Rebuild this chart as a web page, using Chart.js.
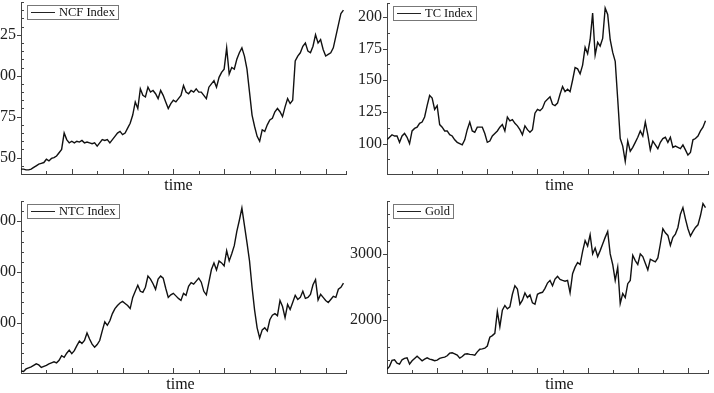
<!DOCTYPE html>
<html>
<head>
<meta charset="utf-8">
<script src="https://cdn.jsdelivr.net/npm/chart.js@4.4.1/dist/chart.umd.min.js"></script>
<style>
  html, body { margin: 0; padding: 0; background: #fff; overflow: hidden; }
  #wrap { position: relative; width: 714px; height: 393px; overflow: hidden; }
  canvas { position: absolute; }
</style>
</head>
<body>
<div id="wrap">
  <canvas id="ncf_chart" width="378" height="196" style="left:-30px;top:0px"></canvas>
  <canvas id="tc_chart" width="374" height="196" style="left:340px;top:0px"></canvas>
  <canvas id="ntc_chart" width="378" height="197" style="left:-30px;top:196px"></canvas>
  <canvas id="gold_chart" width="374" height="197" style="left:340px;top:196px"></canvas>
</div>
<script>
// values, one point per step along the time axis
const ncfIndex = [43, 43, 42.5, 42.5, 43, 44, 45, 46, 46.5, 47, 49, 48, 49.5, 50, 51, 53, 55, 65, 61, 59,
  60, 59, 60, 59.5, 60.5, 59, 59.5, 59, 58.5, 59, 57, 59, 61, 60.5, 61, 59, 61, 63, 65, 66,
  64, 65, 68, 71, 76, 84, 80, 92, 88, 87, 93, 90, 91, 89, 86, 91, 88, 84, 80, 83,
  85, 84, 86, 88, 94, 90, 89, 91, 90, 92, 90, 90, 88, 86, 93, 95, 97, 93, 99, 102,
  104, 117, 101, 105, 104, 110, 114, 117, 112, 104, 90, 76, 69, 63, 60, 67, 66, 70, 73, 74,
  78, 80, 78, 75, 81, 86, 83, 85, 109, 112, 114, 118, 120, 115, 114, 118, 125, 120, 122, 116,
  112, 113, 114, 117, 124, 131, 138, 140];

const tcIndex = [103, 105, 107, 106, 106, 101, 106, 108, 105, 100, 110, 112, 113, 116, 117, 121, 130, 138, 136, 127,
  130, 115, 113, 110, 110, 107, 106, 103, 101, 100, 99, 103, 111, 117, 110, 109, 113, 113, 113, 108,
  101, 102, 106, 108, 110, 113, 115, 110, 121, 118, 119, 116, 114, 111, 107, 114, 111, 109, 111, 124,
  127, 126, 128, 133, 135, 137, 131, 130, 132, 139, 145, 141, 143, 141, 150, 160, 159, 155, 162, 176,
  171, 182, 203, 170, 180, 177, 183, 207, 202, 182, 172, 165, 135, 104, 98, 86, 102, 94, 97, 101,
  105, 110, 106, 117, 107, 95, 102, 99, 96, 101, 104, 105, 101, 105, 97, 98, 97, 96, 99, 95,
  91, 93, 103, 104, 106, 110, 113, 118];

const ntcIndex = [105, 104, 109, 111, 113, 116, 119, 117, 112, 114, 116, 119, 121, 123, 121, 126, 135, 132, 140, 146,
  139, 145, 155, 164, 159, 165, 180, 168, 158, 152, 157, 165, 184, 202, 195, 204, 218, 228, 234, 239,
  242, 238, 234, 228, 250, 262, 274, 262, 260, 270, 292, 286, 277, 266, 286, 292, 288, 268, 250, 255,
  258, 253, 248, 244, 258, 254, 272, 279, 276, 282, 288, 280, 262, 255, 280, 305, 318, 304, 322, 318,
  312, 342, 322, 336, 352, 380, 402, 426, 392, 358, 322, 270, 225, 190, 170, 186, 190, 184, 206, 215,
  218, 214, 244, 232, 210, 236, 226, 240, 254, 246, 250, 262, 248, 250, 256, 275, 285, 245, 256, 250,
  244, 240, 246, 252, 250, 266, 270, 278];

const goldPrice = [1256, 1300, 1390, 1400, 1350, 1335, 1400, 1420, 1430, 1335, 1385, 1420, 1455, 1420, 1385, 1410, 1430, 1410, 1400, 1385,
  1395, 1420, 1432, 1440, 1460, 1500, 1505, 1490, 1470, 1425, 1450, 1485, 1490, 1482, 1478, 1470, 1520, 1560, 1565, 1575,
  1608, 1740, 1765, 1800, 2130, 1900, 2150, 2220, 2170, 2200, 2390, 2520, 2470, 2240, 2300, 2410, 2340, 2380, 2260, 2240,
  2390, 2410, 2420, 2480, 2560, 2600, 2520, 2620, 2660, 2613, 2600, 2588, 2600, 2412, 2700, 2800, 2870, 2840, 3040, 3200,
  3120, 3290, 3000, 3090, 2960, 3050, 3150, 3250, 3340, 3000, 2840, 2600, 2800, 2250, 2400, 2340, 2550, 2600, 2980, 2900,
  2840, 3000, 2960, 2860, 2760, 2920, 2900, 2880, 2940, 3150, 3380, 3320, 3280, 3130, 3250, 3300, 3400, 3600, 3700, 3530,
  3380, 3270, 3340, 3400, 3440, 3580, 3760, 3700];

// labelled y ticks of each panel
const ncfTicks = [50, 75, 100, 125];
const tcTicks = [100, 125, 150, 175, 200];
const ntcTicks = [200, 300, 400];
const goldTicks = [2000, 3000];

const serif = '"Liberation Serif", "Times New Roman", serif';
const axisColor = '#444';

// tick values from min to max every step, with both ends kept
function tickValues(min, max, step) {
  const out = [min];
  for (let v = Math.ceil(min / step) * step; v < max - 1e-9; v += step) {
    if (v > min + 1e-9) out.push(v);
  }
  out.push(max);
  return out;
}

function makePanel(id, label, values, yMin, yMax, yStep, labels, layout) {
  const xTickVals = tickValues(0, 128, 10);
  const yTickVals = tickValues(yMin, yMax, yStep);

  // tick marks (x up, labelled y out, minor y in), axis title and the framed legend
  const decorations = {
    id: 'decorations',
    afterDraw(chart) {
      const {ctx, chartArea} = chart;
      const xs = chart.scales.x, ys = chart.scales.y;
      ctx.save();
      ctx.strokeStyle = axisColor;
      ctx.lineWidth = 1;
      ctx.beginPath();
      xTickVals.forEach(v => {
        if (v <= 0) return;
        const px = Math.round(xs.getPixelForValue(v)) + 0.5;
        const len = v % 20 === 0 ? 5 : 3;
        ctx.moveTo(px, chartArea.bottom);
        ctx.lineTo(px, chartArea.bottom - len);
      });
      yTickVals.forEach(v => {
        const py = Math.round(ys.getPixelForValue(v)) + 0.5;
        if (labels.includes(v)) {
          ctx.moveTo(chartArea.left - 4, py);
          ctx.lineTo(chartArea.left + 1, py);
        } else {
          ctx.moveTo(chartArea.left, py);
          ctx.lineTo(chartArea.left + 3, py);
        }
      });
      ctx.stroke();

      // x axis title, a little off the plot centre as in the original
      ctx.fillStyle = '#111';
      ctx.font = '16px ' + serif;
      ctx.textAlign = 'center';
      ctx.textBaseline = 'middle';
      ctx.fillText('time', (chartArea.left + chartArea.right) / 2 + layout.titleShift, chartArea.bottom + 12);

      ctx.textAlign = 'left';
      ctx.font = '12.5px ' + serif;
      const tw = ctx.measureText(label).width;
      const bx = Math.round(chartArea.left) + 6, by = Math.round(chartArea.top) + 3;
      const bw = Math.round(32 + tw + 3), bh = 14;
      ctx.fillStyle = '#fff';
      ctx.fillRect(bx, by, bw, bh);
      ctx.strokeStyle = '#777';
      ctx.strokeRect(bx + 0.5, by + 0.5, bw, bh);
      ctx.strokeStyle = '#222';
      ctx.beginPath();
      ctx.moveTo(bx + 4, by + 7.5);
      ctx.lineTo(bx + 28, by + 7.5);
      ctx.stroke();
      ctx.fillStyle = '#111';
      ctx.fillText(label, bx + 32, by + 8);
      ctx.restore();
    }
  };

  new Chart(document.getElementById(id), {
    type: 'line',
    data: {
      datasets: [{
        label: label,
        data: values.map((v, i) => ({x: i, y: v})),
        borderColor: '#111',
        borderWidth: 1.4,
        pointRadius: 0,
        tension: 0,
        fill: false
      }]
    },
    options: {
      responsive: false,
      animation: false,
      devicePixelRatio: 1,
      layout: {padding: layout.padding},
      plugins: {
        legend: {display: false},
        tooltip: {enabled: false}
      },
      scales: {
        x: {
          type: 'linear',
          min: 0,
          max: 128,
          grid: {display: false, drawTicks: false},
          border: {display: true, color: axisColor, width: 1},
          ticks: {display: false, autoSkip: false},
          title: {display: false},
          afterFit: s => { s.height = layout.xHeight; s.paddingLeft = 0; s.paddingRight = 0; }
        },
        y: {
          min: yMin,
          max: yMax,
          grid: {display: false, drawTicks: false},
          border: {display: true, color: axisColor, width: 1},
          afterBuildTicks: s => { s.ticks = yTickVals.map(value => ({value})); },
          ticks: {
            autoSkip: false,
            padding: 5,
            color: '#222',
            font: {family: serif, size: 16},
            callback: v => labels.includes(v) ? String(v) : ''
          },
          afterFit: s => { s.width = layout.yWidth; s.paddingTop = 0; s.paddingBottom = 0; }
        }
      }
    },
    plugins: [decorations]
  });
}

makePanel('ncf_chart', 'NCF Index', ncfIndex, 40, 145, 5, ncfTicks,
  {yWidth: 51, xHeight: 22, titleShift: -5, padding: {top: 2, right: 2, bottom: 0, left: 0}});
makePanel('tc_chart', 'TC Index', tcIndex, 76, 211, 12.5, tcTicks,
  {yWidth: 47, xHeight: 22, titleShift: 12, padding: {top: 3, right: 6, bottom: 0, left: 0}});
makePanel('ntc_chart', 'NTC Index', ntcIndex, 101, 440, 20, ntcTicks,
  {yWidth: 51, xHeight: 20, titleShift: -3, padding: {top: 5, right: 2, bottom: 0, left: 0}});
makePanel('gold_chart', 'Gold', goldPrice, 1200, 3800, 200, goldTicks,
  {yWidth: 47, xHeight: 20, titleShift: 12, padding: {top: 5, right: 6, bottom: 0, left: 0}});
</script>
</body>
</html>
